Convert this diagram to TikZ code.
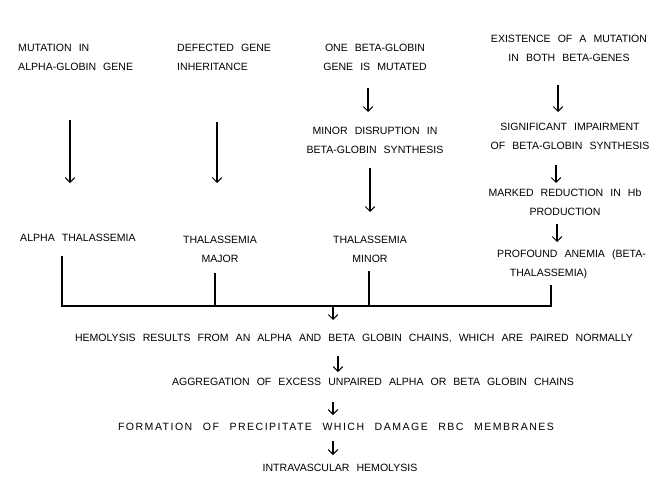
\documentclass[tikz,border=0pt]{standalone}
\usepackage{fontspec}
\setmainfont[WordSpace=2.4]{Liberation Sans}
\usetikzlibrary{arrows.meta}

\begin{document}
\begin{tikzpicture}[x=0.03cm, y=-0.03cm,
    texto/.style={inner sep=0pt, font=\fontsize{9}{16}\selectfont},
    flecha/.style={line width=0.9pt, -{Straight Barb[length=4pt,width=8pt]}},
    linea/.style={line width=0.9pt}]
    \useasboundingbox (0,0) rectangle (670,477);

    % Causas
    \node[texto, anchor=west, align=left] (mutAlpha) at (18,57) {MUTATION IN\\ALPHA-GLOBIN GENE};
    \node[texto, anchor=west, align=left] (defGene) at (177,57) {DEFECTED GENE\\INHERITANCE};
    \node[texto, align=center] (oneBeta) at (375,57) {ONE BETA-GLOBIN\\GENE IS MUTATED};
    \node[texto, align=center] (minorDis) at (375,140) {MINOR DISRUPTION IN\\BETA-GLOBIN SYNTHESIS};
    \node[texto, align=center] (existBoth) at (569,48) {EXISTENCE OF A MUTATION\\IN BOTH BETA-GENES};
    \node[texto, align=center] (signImp) at (570,136) {SIGNIFICANT IMPAIRMENT\\OF BETA-GLOBIN SYNTHESIS};
    \node[texto, align=center] (markRed) at (565,202) {MARKED REDUCTION IN Hb\\PRODUCTION};

    % Tipos
    \node[texto, anchor=west] (alphaThal) at (20,238) {ALPHA THALASSEMIA};
    \node[texto, align=center] (thalMajor) at (220,249) {THALASSEMIA\\MAJOR};
    \node[texto, align=center] (thalMinor) at (370,249) {THALASSEMIA\\MINOR};
    \node[texto, anchor=west, align=left] (profAnemia) at (497,264) {PROFOUND ANEMIA (BETA-\\\hspace*{1.2em}THALASSEMIA)};

    % Consecuencias
    \node[texto] (hemoRes) at (354,338) {HEMOLYSIS RESULTS FROM AN ALPHA AND BETA GLOBIN CHAINS, WHICH ARE PAIRED NORMALLY};
    \node[texto] (aggreg) at (373,382) {AGGREGATION OF EXCESS UNPAIRED ALPHA OR BETA GLOBIN CHAINS};
    \node[texto] (formPrec) at (336,427) {\addfontfeature{LetterSpace=14}FORMATION OF PRECIPITATE WHICH DAMAGE RBC MEMBRANES};
    \node[texto] (intraHemo) at (340,468) {INTRAVASCULAR HEMOLYSIS};

    % Puntos de las flechas
    \coordinate (a1) at (70,120);   \coordinate (b1) at (70,183);
    \coordinate (a2) at (217,122);  \coordinate (b2) at (217,183);
    \coordinate (a3) at (368,88);   \coordinate (b3) at (368,112);
    \coordinate (a4) at (370,168);  \coordinate (b4) at (370,212);
    \coordinate (a5) at (558,85);   \coordinate (b5) at (558,112);
    \coordinate (a6) at (556,165);  \coordinate (b6) at (556,183);
    \coordinate (a7) at (557,224);  \coordinate (b7) at (557,242);
    \coordinate (a8) at (338,356);  \coordinate (b8) at (338,372);
    \coordinate (a9) at (333,402);  \coordinate (b9) at (333,415);
    \coordinate (a10) at (333,441); \coordinate (b10) at (333,455);

    % Flechas
    \foreach \i in {1,...,10}
        \draw[flecha] (a\i) -- (b\i);

    % Puntos de la llave
    \coordinate (P1) at (62,256);
    \coordinate (P2) at (215,273);
    \coordinate (P3) at (369,271);
    \coordinate (P4) at (551,285);
    \coordinate (Q1) at (62,306);
    \coordinate (Q2) at (215,306);
    \coordinate (Q3) at (369,306);
    \coordinate (Q4) at (551,306);
    \coordinate (M) at (333,306);
    \coordinate (N) at (333,320);

    % Dibujar la llave
    \draw[linea] (P1) -- (Q1) -- (Q4) -- (P4);
    \draw[linea] (P2) -- (Q2);
    \draw[linea] (P3) -- (Q3);
    \draw[flecha] (M) -- (N);

\end{tikzpicture}
\end{document}
